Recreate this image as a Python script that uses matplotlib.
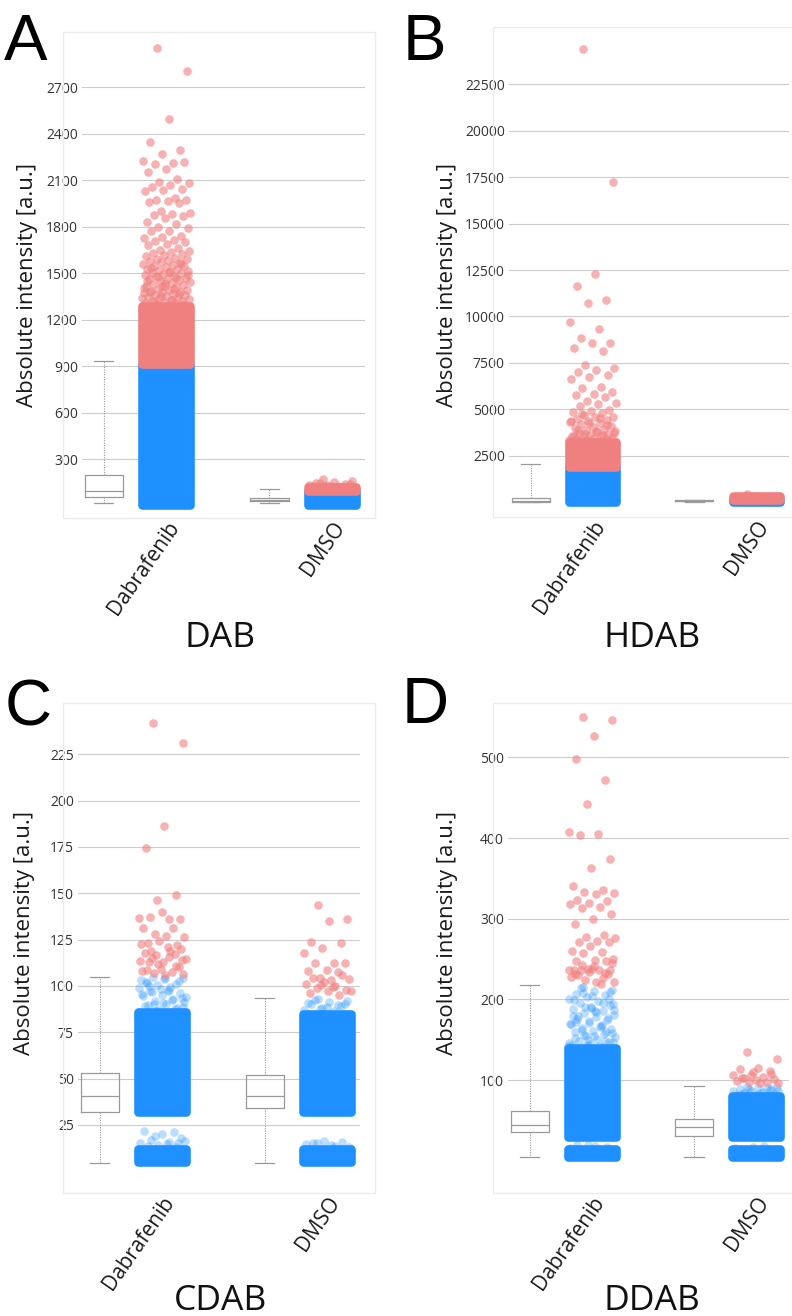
import numpy as np
import matplotlib.pyplot as plt
from matplotlib.patches import Rectangle

plt.rcParams['font.family'] = ['Open Sans', 'DejaVu Sans']

BLUE = '#1E90FF'
RED = '#F08080'
W, H = 792, 1316

groups = ['Dabrafenib', 'DMSO']

# ---- DAB ----
# box stats per group: whislo, q1, med, q3, whishi
dab_box = [[18, 57, 97, 198, 934], [15, 30, 37, 50, 108]]
dab_ticks = [300, 600, 900, 1200, 1500, 1800, 2100, 2400, 2700]
dab_blue_bands = [[(5, 915)], [(5, 92)]]
dab_red_bands = [[(915, 1290)], [(95, 120)]]
dab_blue_pts = [[], []]
dab_red_pts = [
    [2952, 2805, 2494, 2345, 2295, 2268, 2224, 2212, 2205, 2215, 2172, 2152,
     2110, 2090, 2080, 2070, 2060, 2045, 2035, 2030, 1985, 1975, 1970, 1965,
     1960, 1955, 1900, 1890, 1880, 1875, 1870, 1860, 1830, 1815, 1800, 1790,
     1775, 1770, 1740, 1735, 1725, 1715, 1710, 1700, 1690, 1680, 1665, 1650,
     1645, 1640, 1630, 1625, 1615, 1610, 1600, 1595, 1590, 1585, 1580, 1575,
     1570, 1560, 1555, 1550, 1545, 1540, 1530, 1525, 1520, 1515, 1510, 1505,
     1500, 1495, 1490, 1485, 1480, 1470, 1465, 1460, 1455, 1450, 1445, 1440,
     1430, 1425, 1420, 1415, 1410, 1400, 1395, 1390, 1386, 1381, 1377, 1372,
     1368, 1362, 1357, 1353, 1348, 1344, 1338, 1333, 1329, 1324, 1319, 1316,
     1311, 1307, 1302, 1298, 1293, 1378, 1366, 1351, 1342, 1327, 1313, 1304,
     1436, 1452, 1468, 1476, 1492, 1508, 1534, 1562, 1418, 1406, 1397],
    [171, 160, 152, 148, 140, 135, 132, 128, 145, 138, 130, 125, 123, 127],
]

# ---- HDAB ----
hdab_box = [[10, 45, 100, 225, 2070], [30, 60, 90, 120, 160]]
hdab_ticks = [2500, 5000, 7500, 10000, 12500, 15000, 17500, 20000, 22500]
hdab_blue_bands = [[(5, 1925)], [(5, 150)]]
hdab_red_bands = [[(1925, 3250)], [(130, 330)]]
hdab_blue_pts = [[], []]
hdab_red_pts = [
    [24380, 17214, 12267, 11640, 10895, 10716, 9680, 9338, 8830, 8600, 8600,
     8280, 8136, 7410, 7230, 7140, 7034, 6837, 6731, 6642, 6226, 6172, 5950,
     5833, 5800, 5655, 5474, 5333, 5300, 5200, 4970, 4900, 4882, 4800, 4700,
     4615, 4600, 4500, 4450, 4400, 4330, 4300, 4200, 4100, 4050, 4000, 3950,
     3900, 3850, 3800, 3750, 3700, 3650, 3600, 3550, 3520, 3480, 3460, 3430,
     3410, 3380, 3360, 3330, 3310, 3290, 3270, 3560, 3620, 3690, 3740, 3820,
     3880, 4150, 4250, 4380, 4520, 4760],
    [480, 350, 340],
]

# ---- CDAB ----
cdab_box = [[4.7, 31.8, 40.6, 52.9, 104.7], [4.7, 34.3, 40.6, 52.0, 93.3]]
cdab_ticks = [25, 50, 75, 100, 125, 150, 175, 200, 225]
cdab_blue_bands = [[(32, 86), (5, 12)], [(32, 85), (5, 12)]]
cdab_red_bands = [[], []]
cdab_blue_pts = [
    [105, 104, 103.5, 102, 101, 100.5, 99, 98, 97.5, 96, 95, 94.5, 93, 92,
     91.5, 90, 89.5, 88, 87, 103, 99.5, 96.5, 93.5, 91, 89, 87.5, 86.5, 94,
     97, 100, 102.5, 98.5, 95.5, 92.5, 90.5, 88.5, 104.5, 101.5,
     13, 14, 15, 16, 17, 18, 20, 22, 21, 19, 16.5, 14.5, 13.5, 15.5],
    [93, 92, 91.5, 90, 89, 88, 87, 86.5, 92.5, 90.5, 88.5, 91, 89.5, 87.5,
     13, 14, 15, 16, 16.5, 14.5, 13.5, 15.5],
]
cdab_red_pts = [
    [241.9, 230.9, 186.2, 174.4, 149.1, 146.2, 136.5, 136, 137, 136, 140,
     131.4, 131.4, 128.2, 126.3, 126.8, 123, 122, 124.4, 122.7, 118.7, 115,
     114, 113, 118, 117, 116.6, 114.6, 121, 113, 110, 109, 108, 107.5, 107,
     106.5, 106, 108.5, 111, 112, 113.5, 115.5, 119, 120],
    [143.9, 136.3, 135.2, 123.9, 123, 120.5, 117.9, 112.2, 112.2, 112.2,
     108.7, 107.8, 107.3, 104, 103.5, 103, 104.5, 106, 102, 101, 100, 99, 98,
     97, 96, 95, 100.5, 97.5, 99.5],
]

# ---- DDAB ----
ddab_box = [[5, 35.2, 44.3, 61.6, 217.8], [5, 31, 42.2, 51.3, 93]]
ddab_ticks = [100, 200, 300, 400, 500]
ddab_blue_bands = [[(30, 140), (5, 14)], [(30, 80), (5, 14)]]
ddab_red_bands = [[], []]
ddab_blue_pts = [
    [215, 212, 210, 207, 205, 203, 200, 198, 196, 193, 190, 188, 186, 183,
     181, 178, 176, 174, 171, 169, 167, 165, 163, 161, 159, 157, 155, 153,
     151, 149, 147, 145, 143, 141, 208, 194, 185, 172, 160, 150, 146, 142,
     214, 209, 204, 199, 195, 191, 187, 184, 180, 177, 173, 170, 166, 162,
     158, 154, 152, 148, 144, 142, 139, 137, 201, 189, 179, 168, 156, 147,
     18, 19, 17, 20, 16],
    [92, 91, 90, 89, 88, 87, 86, 85, 84, 83, 82, 81, 90.5, 88.5, 86.5, 84.5,
     82.5, 89.5, 17, 16, 18],
]
ddab_red_pts = [
    [549.7, 546.5, 526.6, 498, 472, 442.7, 407, 405, 404, 373.6, 363.2, 340,
     335, 333, 332, 331, 323, 322, 320, 318, 315, 313, 306.4, 300, 293.3, 280,
     277.4, 276.5, 272, 271, 271, 266.6, 260, 259, 258, 250, 249, 248, 248,
     238, 237, 237, 236, 236, 238, 237, 226, 224, 222, 221, 230, 232, 234,
     228, 219, 243, 245, 241, 231, 233],
    [134.3, 125.7, 114.5, 113.3, 111.6, 106.2, 106, 104, 102, 101, 100, 99,
     98, 97, 96, 96, 103, 108, 110],
]

JIT = 0.29
BOX_OFF = -0.378
BOX_W = 0.232
MS = 6.2  # marker diameter, points
LABEL_NUDGE = 0.05  # tick labels sit slightly right of the strip centre


def jitter(n):
    return ((np.arange(n) * 0.6180339887 + 0.31) % 1 - 0.5) * JIT


def px_axes(x0, y0, x1, y1):
    return fig.add_axes([x0 / W, 1 - y1 / H, (x1 - x0) / W, (y1 - y0) / H])


def frame(x0, y0, x1, y1):
    fig.patches.append(Rectangle((x0 / W, 1 - y1 / H), (x1 - x0) / W, (y1 - y0) / H,
                                 transform=fig.transFigure, fill=False,
                                 edgecolor='#ececec', lw=1, zorder=0))


def panel(ax, ylim, ticks, box, blue_bands, red_bands, blue_pts, red_pts):
    ax.set_xlim(-0.51, 1.2)
    ax.set_ylim(*ylim)
    stats = [dict(whislo=b[0], q1=b[1], med=b[2], q3=b[3], whishi=b[4], fliers=[])
             for b in box]
    lc = '#9a9a9a'
    ax.bxp(stats, positions=[i + BOX_OFF for i in range(len(groups))],
           widths=BOX_W, capwidths=BOX_W * 0.5, showfliers=False,
           boxprops=dict(color=lc, lw=0.9),
           medianprops=dict(color=lc, lw=0.9),
           whiskerprops=dict(color=lc, lw=0.8, linestyle=(0, (1, 1.2))),
           capprops=dict(color=lc, lw=0.9), manage_ticks=False)
    for i in range(len(groups)):
        for lo, hi in blue_bands[i]:
            ax.bar(i, hi - lo, bottom=lo, width=JIT, color=BLUE, edgecolor=BLUE,
                   linewidth=MS, joinstyle='round', zorder=3)
        if blue_pts[i]:
            ax.scatter(i + jitter(len(blue_pts[i])), blue_pts[i], s=MS ** 2,
                       color=BLUE, alpha=0.3, linewidths=0, zorder=3)
        for lo, hi in red_bands[i]:
            ax.bar(i, hi - lo, bottom=lo, width=JIT, color=RED, edgecolor=RED,
                   linewidth=MS, joinstyle='round', zorder=4)
        ax.scatter(i + jitter(len(red_pts[i])), red_pts[i], s=MS ** 2, color=RED,
                   alpha=0.6, linewidths=0, zorder=4)
    ax.set_yticks(ticks)
    ax.set_xticks([i + LABEL_NUDGE for i in range(len(groups))])
    ax.set_xticklabels(groups, rotation=55, ha='right', va='center',
                       rotation_mode='anchor', fontsize=15, color='#1a1a1a')
    ax.tick_params(axis='y', length=0, pad=3, labelsize=10, labelcolor='#333333')
    ax.tick_params(axis='x', length=0, pad=4)
    ax.yaxis.grid(True, color='#cccccc', lw=0.8)
    ax.set_axisbelow(True)
    for s in ax.spines.values():
        s.set_visible(False)
    ax.patch.set_alpha(0)


fig = plt.figure(figsize=(W / 100, H / 100), dpi=100)

# panel A
axA = px_axes(82, 32, 365, 518)
frame(63, 32, 375, 518)
panel(axA, (-79, 3057), dab_ticks, dab_box, dab_blue_bands, dab_red_bands,
      dab_blue_pts, dab_red_pts)
# panel B
axB = px_axes(509, 27, 789, 517)
frame(493, 27, 813, 517)
panel(axB, (-780, 25565), hdab_ticks, hdab_box, hdab_blue_bands, hdab_red_bands,
      hdab_blue_pts, hdab_red_pts)
# panel C
axC = px_axes(78, 703, 360, 1193)
frame(63, 703, 375, 1193)
panel(axC, (-11.7, 252.6), cdab_ticks, cdab_box, cdab_blue_bands, cdab_red_bands,
      cdab_blue_pts, cdab_red_pts)
# panel D
axD = px_axes(508, 703, 789, 1193)
frame(493, 703, 813, 1193)
panel(axD, (-40, 567.4), ddab_ticks, ddab_box, ddab_blue_bands, ddab_red_bands,
      ddab_blue_pts, ddab_red_pts)

ylab = 'Absolute intensity [a.u.]'
for x, y in [(28, 285), (448, 285), (25, 933), (448, 933)]:
    fig.text(x / W, 1 - y / H, ylab, rotation=90, ha='center', va='center',
             fontsize=16, color='#1a1a1a')

for x, y, t in [(220, 647, 'DAB'), (652, 647, 'HDAB'), (220, 1310, 'CDAB'),
                (652, 1310, 'DDAB')]:
    fig.text(x / W, 1 - y / H, t, ha='center', va='baseline', fontsize=25.5,
             color='#111111')

for x, y, t in [(4, 60, 'A'), (403, 60, 'B'), (5, 725, 'C'), (402, 723, 'D')]:
    fig.text(x / W, 1 - y / H, t, ha='left', va='baseline', fontsize=47,
             family=['Liberation Sans', 'DejaVu Sans'], color='#000000')

fig.savefig('out.png', dpi=100)
